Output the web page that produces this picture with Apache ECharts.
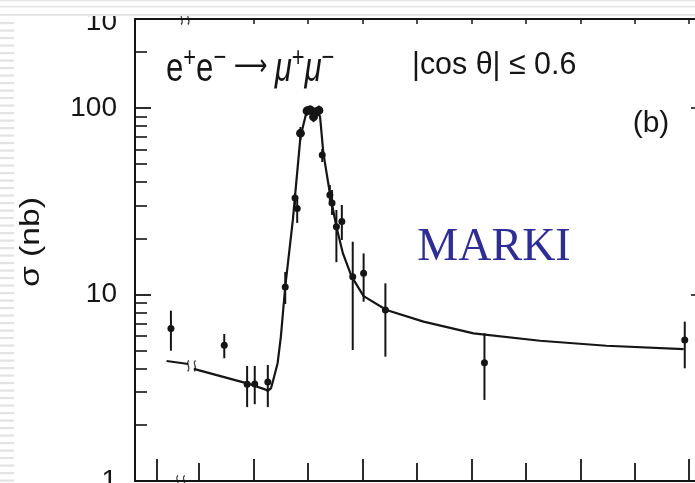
<!DOCTYPE html>
<html><head><meta charset="utf-8">
<script src="https://cdn.jsdelivr.net/npm/echarts@6/dist/echarts.min.js"></script>
<style>html,body{margin:0;padding:0;background:#fff}#c{width:695px;height:483px}</style>
</head><body><div id="c"></div>
<script>
// ---- data (c.m. energy in GeV, left of the axis break compressed; sigma in nb) ----
var pointEnergy = [3.0824, 3.0873, 3.0894, 3.0901, 3.0913, 3.0929, 3.0938, 3.0940, 3.0943,
  3.0949, 3.0952, 3.0955, 3.0958, 3.0960, 3.0963, 3.0970, 3.0972, 3.0976, 3.0981,
  3.0991, 3.1001, 3.1021, 3.1112, 3.1296];
var pointSigma = [6.57, 5.34, 3.30, 3.31, 3.40, 10.97, 32.9, 28.9, 73.2,
  96.4, 97.6, 89.5, 95.2, 97.0, 56.0, 34.2, 30.9, 23.1, 24.6,
  12.46, 13.0, 8.26, 4.31, 5.70];
var pointErrLow = [5.00, 4.55, 2.49, 2.58, 2.49, 8.89, 30.2, 24.2, 67.3,
  91, 92, 84, 90, 92, 51.3, 30.2, 26.7, 14.9, 19.6,
  5.04, 9.15, 4.64, 2.72, 4.02];
var pointErrHigh = [8.19, 6.14, 4.14, 4.14, 4.19, 13.2, 35.0, 32.1, 79.1,
  102, 103, 95, 101, 103, 60.3, 38.6, 36.3, 28.4, 30.2,
  19.2, 16.6, 11.48, 6.19, 7.15];
var curveLeftEnergy = [3.0820, 3.0840];
var curveLeftSigma = [4.40, 4.24];
var curveRightEnergy = [3.0845, 3.0894, 3.0911, 3.0913, 3.0916, 3.0918, 3.0922, 3.0925, 3.0929,
  3.0936, 3.0943, 3.0949, 3.0953, 3.0957, 3.0961, 3.0964, 3.0970, 3.0976, 3.0982,
  3.0990, 3.1001, 3.1022, 3.1056, 3.1102, 3.1163, 3.1224, 3.1295];
var curveRightSigma = [3.99, 3.34, 3.09, 3.04, 3.15, 3.48, 4.28, 5.94, 11.0,
  25.1, 70.2, 97.6, 100, 99, 89.8, 57.5, 34.9, 23.1, 16.6,
  12.46, 9.8, 8.26, 7.15, 6.19, 5.65, 5.31, 5.10];
var xTicksLong = [3.0811, 3.090, 3.100, 3.110, 3.120, 3.130];
var xTicksShort = [3.085, 3.095, 3.105, 3.115, 3.125];
var xTicksTop = [3.090, 3.095, 3.100, 3.105, 3.110, 3.115, 3.120, 3.125, 3.130];
var yLabelValues = [1, 10, 100];
var yMinorTicks = [2, 3, 4, 5, 6, 7, 8, 9, 20, 30, 40, 50, 60, 70, 80, 90, 200, 300];
var breakEnergy = [3.0843, 3.0833, 3.0837];
var breakSigma = [4.14, 1, 300];

// ---- chart ----
var INK = '#151515';
var FONT = '"Liberation Sans", Arial, sans-serif';
function zip(a, b) { return a.map(function (v, i) { return [v, b[i]]; }); }

var chart = echarts.init(document.getElementById('c'), null, { renderer: 'canvas' });

function xAx(extra) {
  var base = { type: 'value', min: 3.0791, max: 3.131, splitLine: { show: false },
    axisLabel: { show: false }, axisLine: { show: true, onZero: false, lineStyle: { color: INK, width: 2 } } };
  for (var k in extra) base[k] = extra[k];
  return base;
}
function yAx(extra) {
  var base = { type: 'log', logBase: 10, min: 1, max: 300, splitLine: { show: false },
    axisLabel: { show: false }, axisLine: { show: true, onZero: false, lineStyle: { color: INK, width: 2 } } };
  for (var k in extra) base[k] = extra[k];
  return base;
}

var stripes = [];
for (var i = 0; i < 62; i++) {
  stripes.push({ type: 'rect', shape: { x: 0, y: 22 + 7.5 * i, width: 14, height: 2.2 },
    style: { fill: '#e3e3e3' }, z: 0, silent: true });
}

var option = {
  backgroundColor: '#ffffff',
  animation: false,
  grid: { left: 135, top: 19, right: -5, bottom: 2, containLabel: false, outerBoundsMode: 'none' },
  xAxis: [
    xAx({ position: 'bottom', axisTick: { show: true, inside: true, length: 22, customValues: xTicksLong, lineStyle: { color: INK, width: 1.8 } } }),
    xAx({ position: 'bottom', axisLine: { show: false }, axisTick: { show: true, inside: true, length: 18, customValues: xTicksShort, lineStyle: { color: INK, width: 1.8 } } }),
    xAx({ position: 'top', axisTick: { show: true, inside: true, length: 5, customValues: xTicksTop, lineStyle: { color: INK, width: 1.5 } } })
  ],
  yAxis: [
    yAx({ position: 'left', axisTick: { show: true, inside: true, length: 16, customValues: yLabelValues, lineStyle: { color: INK, width: 1.8 } },
      axisLabel: { show: true, customValues: yLabelValues, margin: 18, fontSize: 28, fontFamily: FONT, color: INK } }),
    yAx({ position: 'left', axisLine: { show: false }, axisTick: { show: true, inside: true, length: 12, customValues: yMinorTicks, lineStyle: { color: INK, width: 1.6 } } }),
    yAx({ position: 'right', axisTick: { show: true, inside: true, length: 9, customValues: [10, 100], lineStyle: { color: INK, width: 1.6 } } })
  ],
  series: [
    { type: 'line', xAxisIndex: 0, yAxisIndex: 0, data: zip(curveLeftEnergy, curveLeftSigma),
      symbol: 'none', lineStyle: { color: INK, width: 2.2 }, z: 3 },
    { type: 'line', xAxisIndex: 0, yAxisIndex: 0, data: zip(curveRightEnergy, curveRightSigma),
      symbol: 'none', lineStyle: { color: INK, width: 2.2 }, z: 3 },
    { type: 'custom', xAxisIndex: 0, yAxisIndex: 0, z: 4,
      data: pointEnergy.map(function (e, i) { return [e, pointSigma[i], pointErrLow[i], pointErrHigh[i]]; }),
      encode: { x: 0, y: 1 },
      renderItem: function (params, api) {
        var e = api.value(0);
        var c = api.coord([e, api.value(1)]);
        var lo = api.coord([e, api.value(2)]);
        var hi = api.coord([e, api.value(3)]);
        var big = api.value(1) > 60;
        return { type: 'group', children: [
          { type: 'line', shape: { x1: hi[0], y1: hi[1], x2: lo[0], y2: lo[1] }, style: { stroke: INK, lineWidth: 2 } },
          { type: 'circle', shape: { cx: c[0], cy: c[1], r: big ? 4.4 : 3.5 }, style: { fill: INK } }
        ] };
      }
    },
    { type: 'scatter', xAxisIndex: 0, yAxisIndex: 0, z: 5, clip: false, silent: true,
      data: zip(breakEnergy, breakSigma),
      symbol: 'path://M3,0 C0,3 5,6 2,10 M8,0 C5,3 10,6 7,10',
      symbolSize: [8, 11],
      itemStyle: { color: 'rgba(0,0,0,0)', borderColor: INK, borderWidth: 1.5 } }
  ],
  graphic: [].concat(stripes, [
    { type: 'text', x: 117, y: 22, z: 50, silent: true,
      style: { text: '10', font: '28px ' + FONT, fill: INK, align: 'right', verticalAlign: 'middle' } },
    { type: 'rect', shape: { x: 0, y: 0, width: 695, height: 16 }, style: { fill: '#ffffff' }, z: 90, silent: true },
    { type: 'rect', shape: { x: 0, y: 0, width: 695, height: 1.2 }, style: { fill: '#e3e3e3' }, z: 91, silent: true },
    { type: 'rect', shape: { x: 0, y: 5.8, width: 695, height: 1.8 }, style: { fill: '#e6e6e6' }, z: 91, silent: true },
    { type: 'rect', shape: { x: 0, y: 14, width: 695, height: 1.8 }, style: { fill: '#e3e3e3' }, z: 91, silent: true },
    { type: 'text', x: 166, y: 67, scaleX: 0.78, z: 60, silent: true,
      style: { text: '{b|e}{p|+}{b|e}{p|−}{a| ⟶ }{m|μ}{p|+}{m|μ}{p|−}', fill: INK, verticalAlign: 'middle',
        rich: {
          b: { fontSize: 40, fontFamily: FONT, lineHeight: 46, verticalAlign: 'bottom' },
          p: { fontSize: 28, fontFamily: FONT, lineHeight: 30, verticalAlign: 'top' },
          a: { fontSize: 30, fontFamily: '"DejaVu Sans", sans-serif', lineHeight: 46, verticalAlign: 'middle' },
          m: { fontSize: 40, fontFamily: FONT, fontStyle: 'italic', lineHeight: 46, verticalAlign: 'bottom' }
        } } },
    { type: 'text', x: 412, y: 65, scaleX: 0.95, z: 60, silent: true,
      style: { text: '|cos θ| ≤ 0.6', font: '32px ' + FONT, fill: INK, align: 'left', verticalAlign: 'middle' } },
    { type: 'text', x: 651, y: 124, z: 60, silent: true,
      style: { text: '(b)', font: '30px ' + FONT, fill: INK, align: 'center', verticalAlign: 'middle' } },
    { type: 'text', x: 494, y: 248, z: 60, silent: true,
      style: { text: 'MARKI', font: '46px "Liberation Serif", "Times New Roman", serif', fill: '#2e2d96', align: 'center', verticalAlign: 'middle' } },
    { type: 'text', x: 32, y: 242, rotation: Math.PI / 2, scaleX: 1.25, z: 60, silent: true,
      style: { text: 'σ (nb)', font: '27px ' + FONT, fill: INK, align: 'center', verticalAlign: 'middle' } }
  ])
};
chart.setOption(option);
</script></body></html>
